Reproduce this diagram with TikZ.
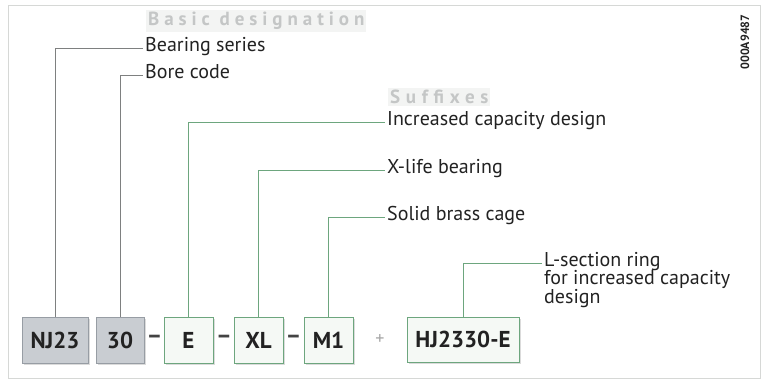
\documentclass[tikz,border=0pt]{standalone}
\usepackage{fontspec}
\setmainfont{PT Sans}
\usetikzlibrary{calc}
\definecolor{frameC}{HTML}{D6D8D6}
\definecolor{grayfill}{HTML}{C9CDD2}
\definecolor{grayedge}{HTML}{979DA4}
\definecolor{greenfill}{HTML}{F5F9F5}
\definecolor{greenedge}{HTML}{6DA67E}
\definecolor{greenline}{HTML}{6DA67E}
\definecolor{grayline}{HTML}{7E8080}
\definecolor{headC}{HTML}{C4C6C6}
\definecolor{headbg}{HTML}{F3F4F3}
\definecolor{txt}{HTML}{222222}
\tikzset{
  codebox/.style={minimum height=46pt, inner sep=0pt, font=\fontsize{23}{25}\selectfont\bfseries, text=txt, line width=0.9pt},
  graybox/.style={codebox, fill=grayfill, draw=grayedge},
  greenbox/.style={codebox, fill=greenfill, draw=greenedge},
  shadowbox/.style={fill=black!14, draw=none},
  lbl/.style={anchor=west, inner xsep=2pt, inner ysep=0pt, font=\fontsize{20}{22}\selectfont, text=txt, text height=1.6ex, text depth=0.3ex},
  head/.style={anchor=west, inner xsep=2pt, inner ysep=2pt, fill=headbg, font=\fontsize{19}{21}\selectfont\bfseries, text=headC},
  gcon/.style={draw=grayline, line width=0.9pt},
  ncon/.style={draw=greenline, line width=0.9pt},
  sep/.style={font=\fontsize{24}{26}\selectfont\bfseries, text=txt!85},
}
\begin{document}
\begin{tikzpicture}[x=1pt,y=-1pt]
\useasboundingbox (0,0) rectangle (763,380);
\fill[white] (0,0) rectangle (763,380);
\draw[frameC, line width=0.8pt] (8,5) rectangle (760,378);

% headings
\node[head] (basic) at (146,21) {\addfontfeature{LetterSpace=26}Basic designation};
\node[head] (suff) at (388,97) {\addfontfeature{LetterSpace=30}Suffixes};

% id
\node[rotate=90, font=\fontsize{12}{14}\selectfont\bfseries, text=txt, inner sep=0pt] (id) at (745,42) {000A9487};

% shadows
\fill[shadowbox] (24,319) rectangle (90,365);
\fill[shadowbox] (98,319) rectangle (146,365);
\fill[shadowbox] (166,319) rectangle (215,365);
\fill[shadowbox] (236,319) rectangle (285,365);
\fill[shadowbox] (306,319) rectangle (355,365);
\fill[shadowbox] (409,319) rectangle (521,364);

% boxes
\node[graybox, minimum width=66pt] (nj) at (55,340) {NJ23};
\node[graybox, minimum width=48pt] (b30) at (120,340) {30};
\node[greenbox, minimum width=49pt] (e) at (188.5,340) {E};
\node[greenbox, minimum width=49pt] (xl) at (258.5,340) {XL};
\node[greenbox, minimum width=49pt] (m1) at (328.5,340) {M1};
\node[greenbox, minimum width=112pt, minimum height=45pt] (hj) at (463,339.5) {HJ2330-E};

% separators
\node[sep] (d1) at (154.5,339) {–};
\node[sep] (d2) at (224,339) {–};
\node[sep] (d3) at (293.5,339) {–};
\node[font=\fontsize{18}{20}\selectfont, text=black!35] (plus) at (380,340) {+};

% labels
\node[lbl] (l1) at (143,48) {Bearing series};
\node[lbl] (l2) at (143,75) {Bore code};
\node[lbl] (l3) at (385,122) {Increased capacity design};
\node[lbl] (l4) at (385,170) {X-life bearing};
\node[lbl] (l5) at (385,217) {Solid brass cage};
\coordinate (hjend) at (542,263);
\node[anchor=north west, inner xsep=2pt, inner ysep=0pt, font=\fontsize{20}{18.5}\selectfont, text=txt, align=left] (l6) at ($(hjend)+(0,-11)$) {L-section ring\\for increased capacity\\design};

% connectors
\draw[gcon] (nj.north) |- (l1.west);
\draw[gcon] (b30.north) |- (l2.west);
\draw[ncon] (e.north) |- (l3.west);
\draw[ncon] (xl.north) |- (l4.west);
\draw[ncon] (m1.north) |- (l5.west);
\draw[ncon] (hj.north) |- (hjend);
\end{tikzpicture}
\end{document}
